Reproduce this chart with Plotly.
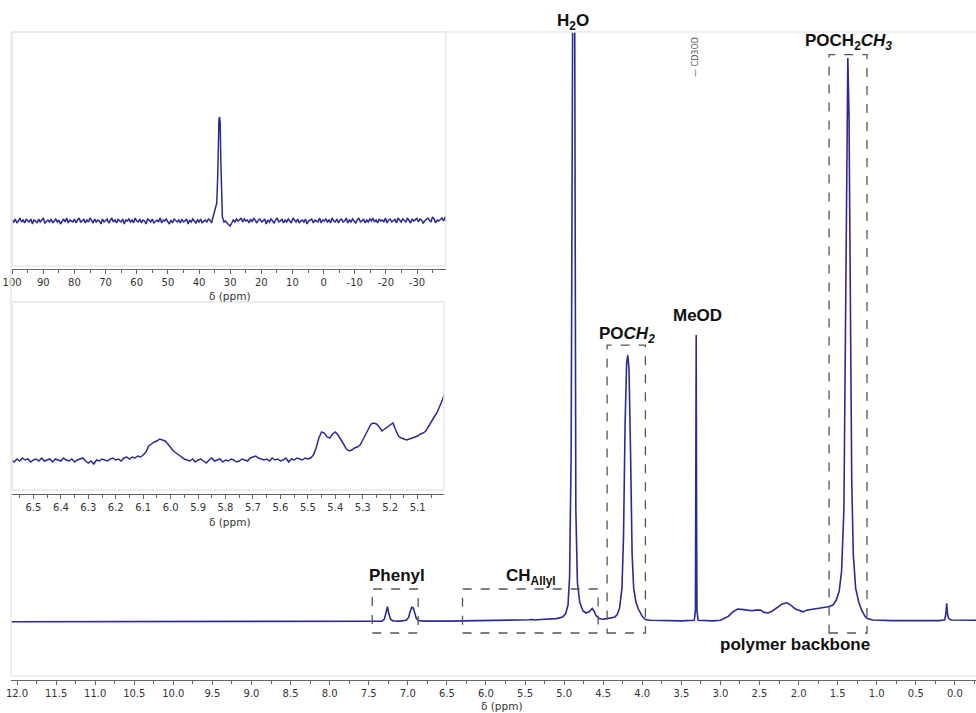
import numpy as np
import plotly.graph_objects as go

W, H = 976, 713
LINE = "#2a2a96"

# ---- 1H spectrum: chemical shift (ppm) and intensity (POCH2CH3 = 100) ----
H1_PPM = [12.10, 7.40, 7.33, 7.30, 7.28, 7.26, 7.245, 7.22, 7.19, 7.10,
          7.02, 6.99, 6.97, 6.95, 6.93, 6.91, 6.89, 6.86, 6.80, 6.50,
          6.10, 6.04, 5.98, 5.60, 5.45, 5.41, 5.37, 5.30, 5.20, 5.10,
          5.02, 4.98, 4.95, 4.93, 4.91, 4.90, 4.89, 4.88, 4.87, 4.86,
          4.85, 4.83, 4.80, 4.76, 4.72, 4.68, 4.655, 4.64, 4.62, 4.59,
          4.55, 4.51, 4.45, 4.40, 4.35, 4.32, 4.29, 4.26, 4.24, 4.22,
          4.20, 4.185, 4.17, 4.15, 4.13, 4.11, 4.08, 4.05, 4.03, 4.00,
          3.96, 3.90, 3.50, 3.335, 3.32, 3.315, 3.31, 3.305, 3.30, 3.285,
          3.10, 3.00, 2.90, 2.84, 2.78, 2.70, 2.60, 2.55, 2.49, 2.44,
          2.39, 2.33, 2.27, 2.21, 2.15, 2.10, 2.04, 1.97, 1.94, 1.90,
          1.80, 1.70, 1.62, 1.56, 1.52, 1.48, 1.45, 1.42, 1.40, 1.385,
          1.37, 1.355, 1.34, 1.32, 1.30, 1.27, 1.23, 1.19, 1.15, 1.12,
          1.05, 0.80, 0.20, 0.13, 0.115, 0.105, 0.095, 0.085, 0.07, 0.04,
          -0.30]
H1_INT = [0.05, 0.10, 0.15, 0.5, 1.4, 2.7, 1.6, 0.5, 0.2, 0.15,
          0.3, 0.8, 1.8, 2.6, 2.5, 1.5, 0.6, 0.25, 0.15, 0.15,
          0.2, 0.3, 0.2, 0.25, 0.4, 0.45, 0.35, 0.45, 0.5, 0.6,
          0.9, 1.5, 3.0, 8, 30, 80, 140, 150, 140, 60,
          20, 7, 3.5, 2.0, 1.6, 1.8, 2.3, 2.4, 2.0, 1.1,
          0.6, 0.5, 0.6, 0.7, 0.9, 1.3, 2.5, 6, 15, 35,
          46, 47.3, 45, 30, 12, 6, 3.5, 2.3, 1.8, 1.0,
          0.45, 0.3, 0.2, 0.3, 2.0, 18, 50.9, 18, 2.0, 0.3,
          0.2, 0.3, 1.0, 1.8, 2.3, 2.2, 2.0, 2.1, 2.1, 1.7,
          1.6, 2.0, 2.6, 3.2, 3.4, 3.0, 2.3, 1.9, 1.8, 2.1,
          2.3, 2.5, 2.7, 3.0, 3.8, 5.5, 9, 20, 55, 85,
          100, 90, 60, 25, 12, 6, 3.5, 2.0, 1.0, 0.6,
          0.35, 0.25, 0.25, 0.4, 1.5, 3.3, 1.5, 0.8, 0.5, 0.35,
          0.3]

# ---- 31P spectrum (inset, top): baseline noise, peak, baseline noise ----
P31_LEFT = [1, -1, 2, -2, 0, 3, -1, 1, -2, 2, 0, -1, 2, -3, 1, 0,
            -2, 2, -1, 1, 3, -2, 0, 1, -1, 2, -2, 0, 2, -1, 1, -3,
            0, 2, -1, 3, -2, 1, 0, -1, 2, -2, 1, 3, -1, 0, 2, -2,
            1, -1, 3, 0, -2, 2, -1, 1, 0, -3, 2, -1, 1, 2, -2, 0,
            3, -1, 1, -2, 2, 0, -1, 2, -3, 1, 0, 2, -1, 1, -2, 3,
            0, -1, 2, -2, 1, 0, -3, 2, 1, -1, 2, -2, 0, 1, -1, 3,
            -2, 1, 0, 2, -1, -3, 1, -2, 2, 0, -1, 1, -2, 2, -1, 0,
            2, -3, 1, -1, 2, 0, -2, 1, -1, 2, -2, 0, 1, -1, 2]
P31_PEAK_PPM = [36.5, 36.0, 35.5, 35.0, 34.6, 34.3, 34.0, 33.8, 33.6,
                33.4, 33.2, 33.0, 32.8, 32.5, 32.0, 31.5]
P31_PEAK_INT = [1, -2, 4, 10, 14, 18, 45, 85, 102, 104, 98, 60, 20, 4, -1, 0]
P31_RIGHT = [-2, -4, -5, -2, 1, -1, 2, 0, 1, 3, -1, 2, 0, 1, -2, 2,
             -1, 3, 0, -2, 1, 2, -1, 0, 2, -3, 1, -1, 2, 0, -2, 1,
             3, -1, 0, 2, -2, 1, -1, 2, 0, -2, 3, 1, -1, 2, -2, 0,
             1, -1, 2, -3, 0, 1, 2, -2, 1, 0, -1, 3, -2, 1, 0, 2,
             -1, 1, -2, 3, 0, -1, 2, -2, 1, 2, -1, 0, 3, -2, 1, -1,
             2, 0, -2, 1, 3, -1, 0, 2, -2, 1, -1, 2, 0, 3, -1, 1,
             -2, 2, 0, 1, -1, 3, -2, 1, 2, -1, 0, 2, -2, 3, 1, -1,
             2, 0, -1, 3, 1, -2, 2, 0, 1, 3, -1, 2, 1, -2, 0, 2,
             3, 1, -1, 4, 2, -2, 1, 0, 2, 3, 0, 4, -1]
P31_TICKS = [100, 90, 80, 70, 60, 50, 40, 30, 20, 10, 0, -10, -20, -30]

# ---- 1H expansion 6.6-5.0 ppm (inset, bottom), 0.01 ppm steps ----
EXP_A = [0, -2, 1, -1, 2, 0, 1, -2, 0, 1, -1, 2, -1, 0, 1, -2,
         1, 0, -1, 2, 0, -1, 1, -2, 0, 1, 2, -1, -3, -1, -4, 0,
         -1, 1, 0, -1, 1, 2, 0, 1, -1, 2, 3, 1, 3, 2, 4, 3]          # 6.58-6.11
EXP_B = [5, 8, 14, 16, 18, 19, 21, 20, 19, 16, 12, 9, 7, 5, 3, 1]     # 6.10-5.95
EXP_C = [0, -1, 1, -2, 0, 1, -1, -3, 0, 2, -1, 0, 1, -2, 0, -1,
         1, 0, -2, -1, 1, 0, -1, 2, 3, 4, 2, 1, 0, 1, -1, 2,
         0, 1, -1, 0, 2, -2, 1, 0, 2, 1, 0, 2, 1]                       # 5.94-5.50
EXP_D = [2, 5, 12, 22, 28, 27, 23, 22, 26, 28, 25, 21, 16, 11, 9, 10,
         12, 13, 15, 20, 25, 31, 36, 37, 36, 33, 29, 31, 33, 35, 37, 30,
         24, 22, 21, 20, 21, 22, 23, 24, 26, 27, 29, 34, 38, 43, 47, 53,
         60, 68, 76]                                                    # 5.49-4.99

p31_ppm = np.concatenate([np.linspace(100, 37, len(P31_LEFT)), P31_PEAK_PPM,
                          np.linspace(31, -39.5, len(P31_RIGHT))])
p31_int = np.concatenate([P31_LEFT, P31_PEAK_INT, P31_RIGHT])

exp_ppm = np.concatenate([np.linspace(6.58, 6.11, len(EXP_A)),
                          np.linspace(6.10, 5.95, len(EXP_B)),
                          np.linspace(5.94, 5.50, len(EXP_C)),
                          np.linspace(5.49, 4.99, len(EXP_D))])
exp_int = np.concatenate([EXP_A, EXP_B, EXP_C, EXP_D])


def px(x):
    return x / W


def py(y):
    return 1 - y / H


fig = go.Figure()
fig.add_trace(go.Scatter(x=H1_PPM, y=H1_INT, mode="lines",
                         line=dict(color=LINE, width=1.6), xaxis="x", yaxis="y",
                         hoverinfo="skip"))
fig.add_trace(go.Scatter(x=p31_ppm, y=p31_int, mode="lines",
                         line=dict(color=LINE, width=1.5), xaxis="x2", yaxis="y2",
                         hoverinfo="skip"))
fig.add_trace(go.Scatter(x=exp_ppm, y=exp_int, mode="lines",
                         line=dict(color=LINE, width=1.5), xaxis="x3", yaxis="y3",
                         hoverinfo="skip"))

tickfont = dict(family="DejaVu Sans", size=10, color="#333")
axis_common = dict(showgrid=False, zeroline=False, showline=True, linecolor="#666",
                   linewidth=1, ticks="outside", ticklen=4, tickwidth=1,
                   tickcolor="#666", tickfont=tickfont, anchor="free",
                   automargin=False)

fig.update_layout(
    width=W, height=H, margin=dict(l=0, r=0, t=0, b=0, autoexpand=False),
    paper_bgcolor="white", plot_bgcolor="white", showlegend=False,
    xaxis=dict(**axis_common, domain=[px(11), 1], range=[12.077, -0.27],
               position=py(680), dtick=0.5, tick0=0, tickformat=".1f",
               minor=dict(ticks="outside", ticklen=2.5, dtick=0.25, tick0=0,
                          tickcolor="#666")),
    yaxis=dict(visible=False, domain=[py(676), py(32)], range=[-9.574, 104.61],
               automargin=False),
    xaxis2=dict(**axis_common, domain=[px(12), px(446)], range=[100.05, -39.3],
                position=py(269), tickmode="array", tickvals=P31_TICKS,
                ticktext=[str(v) for v in P31_TICKS],
                minor=dict(ticks="outside", ticklen=2.5, dtick=5, tick0=0,
                           tickcolor="#666")),
    yaxis2=dict(visible=False, domain=[py(266), py(32)], range=[-45, 189],
                anchor="x2", automargin=False),
    xaxis3=dict(**axis_common, domain=[px(12), px(444)], range=[6.578, 5.004],
                position=py(494), dtick=0.1, tick0=0, tickformat=".1f",
                minor=dict(ticks="outside", ticklen=2.5, dtick=0.05, tick0=0,
                           tickcolor="#666")),
    yaxis3=dict(visible=False, domain=[py(490), py(302)], range=[-30, 158],
                anchor="x3", automargin=False),
)

frame = dict(color="#e8e8e8", width=1.5)
shapes = [
    # main frame (top, left, bottom)
    dict(type="line", xref="paper", yref="paper", x0=px(11), x1=1, y0=py(32), y1=py(32), line=frame),
    dict(type="line", xref="paper", yref="paper", x0=px(11), x1=px(11), y0=py(32), y1=py(676), line=frame),
    dict(type="line", xref="paper", yref="paper", x0=px(11), x1=1, y0=py(676), y1=py(676), line=frame),
    # inset frames
    dict(type="rect", xref="x2 domain", yref="y2 domain", x0=0, x1=1, y0=0, y1=1, line=frame),
    dict(type="rect", xref="x3 domain", yref="y3 domain", x0=0, x1=1, y0=0, y1=1, line=frame),
]
box = dict(color="#555", width=1.3, dash="dash")
# dashed region boxes (ppm / intensity units of the main spectrum)
for x0, x1, y0, y1 in [(7.455, 6.867, -1.95, 5.85),
                       (6.30, 4.565, -1.95, 5.85),
                       (4.45, 3.96, -1.95, 49.1),
                       (1.61, 1.125, -1.95, 100.6)]:
    shapes.append(dict(type="rect", xref="x", yref="y", x0=x0, x1=x1, y0=y0, y1=y1,
                       line=box, layer="above"))
fig.update_layout(shapes=shapes)

lab = dict(family="Liberation Sans, Arial, sans-serif", size=17, color="#111")
axt = dict(family="DejaVu Sans", size=10.5, color="#333")
ann = [
    ("<b>H<sub>2</sub>O</b>", 573, 22, lab, 0),
    ("<b>POCH<sub>2</sub><i>CH<sub>3</sub></i></b>", 848, 42, lab, 0),
    ("<b>MeOD</b>", 697, 315, lab, 0),
    ("<b>PO<i>CH<sub>2</sub></i></b>", 627, 335, lab, 0),
    ("<b>Phenyl</b>", 397, 575, lab, 0),
    ("<b>CH<sub>Allyl</sub></b>", 531, 577, lab, 0),
    ("<b>polymer backbone</b>", 795, 644, lab, 0),
    ("δ (ppm)", 502, 706, axt, 0),
    ("δ (ppm)", 230, 296, axt, 0),
    ("δ (ppm)", 230, 522, axt, 0),
    ("— CD3OD", 695, 57, dict(family="DejaVu Sans", size=8, color="#555"), -90),
]
fig.update_layout(annotations=[
    dict(text=t, x=px(x), y=py(y), xref="paper", yref="paper", showarrow=False,
         xanchor="center", yanchor="middle", font=f, textangle=a)
    for t, x, y, f, a in ann
])

fig.write_html("out.html")
